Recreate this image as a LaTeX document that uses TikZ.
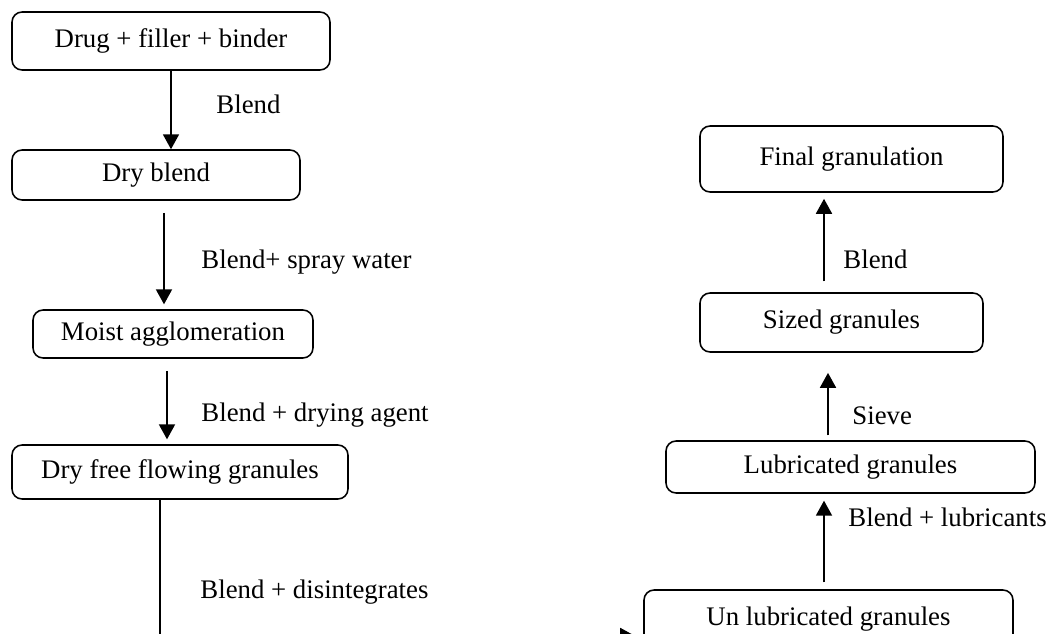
\documentclass[tikz,border=0pt]{standalone}
\usepackage{fontspec}
\setmainfont{Liberation Serif}
\usetikzlibrary{arrows.meta}
\newdimen\px \px=0.4478pt
\tikzset{
  stepbox/.style={draw, rounded corners=4.5pt, line width=0.7pt, inner sep=0pt,
    font=\fontsize{12}{14}\selectfont},
  flow/.style={-{Triangle[length=6.7pt,width=7.2pt]}, line width=0.7pt},
  lab/.style={anchor=west, inner sep=0pt, font=\fontsize{12}{14}\selectfont}
}
\begin{document}
\begin{tikzpicture}[x=\px, y=-\px]
    \useasboundingbox (0,0) rectangle (1046,633);
    \clip (0,0) rectangle (1046,633);
    % process boxes
    \foreach \name/\x/\y/\w/\h/\txt in {
      drug/171/41/318/58/{Drug + filler + binder},
      dry/156/175/288/50/{Dry blend},
      moist/173/334/280/48/{Moist agglomeration},
      dff/180/472/336/54/{Dry free flowing granules},
      final/851.5/159/303/66/{Final granulation},
      sized/841.5/322.5/283/59/{Sized granules},
      lub/850.5/467/369/52/{Lubricated granules},
      unlub/828.5/619/369/58/{Un lubricated granules}}{
      \node[stepbox, minimum width=\w*0.4478pt, minimum height=\h*0.4478pt] (\name) at (\x,\y) {\txt};
    }
    % left column, going down
    \draw[flow] (drug.south) -- (drug.south |- dry.north);
    \draw[flow, shorten <=5.4pt, shorten >=2.2pt] (dry.south -| 164,0) -- (moist.north -| 164,0);
    \draw[flow, shorten <=5.4pt, shorten >=2.2pt] (moist.south -| 167,0) -- (dff.north -| 167,0);
    \coordinate (turn) at (160,636);
    \draw[flow, shorten >=3.6pt] (dff.south -| turn) -- (turn) -- (turn -| unlub.west);
    % right column, going up
    \draw[flow, shorten <=3.1pt, shorten >=3.1pt] (unlub.north -| 824,0) -- (lub.south -| 824,0);
    \draw[flow, shorten <=2.2pt, shorten >=9pt] (lub.north -| 828,0) -- (sized.south -| 828,0);
    \draw[flow, shorten <=4.9pt, shorten >=2.7pt] (sized.north -| 824,0) -- (final.south -| 824,0);
    % step labels
    \node[lab] (lblend) at (216,104) {Blend};
    \node[lab] (lspray) at (201,262) {Blend+ spray water};
    \node[lab] (ldrying) at (201,415) {Blend + drying agent};
    \node[lab] (ldisint) at (200,592) {Blend + disintegrates};
    \node[lab] (lfinal) at (843,259) {Blend};
    \node[lab] (lsieve) at (852,416) {Sieve};
    \node[lab] (llubric) at (848,517) {Blend + lubricants};
\end{tikzpicture}
\end{document}
